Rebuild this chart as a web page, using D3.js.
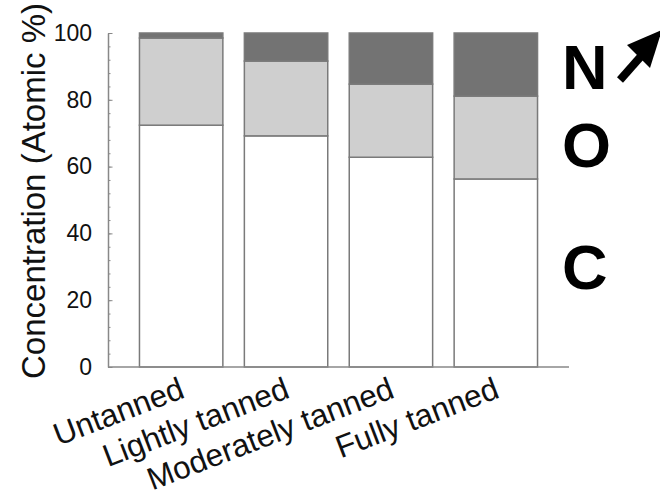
<!DOCTYPE html>
<html>
<head>
<meta charset="utf-8">
<script src="https://cdn.jsdelivr.net/npm/d3@7/dist/d3.min.js"></script>
<style>
  body { margin: 0; background: #fff; }
  svg { display: block; font-family: "Liberation Sans", Arial, sans-serif; }
</style>
</head>
<body>
<div id="chart"></div>
<script>
// sample names and element shares (atomic %)
var categories = ["Untanned", "Lightly tanned", "Moderately tanned", "Fully tanned"];
var elements = ["C", "O", "N"];
var carbon = [72.4, 69.2, 62.8, 56.3];
var oxygen = [26.1, 22.4, 21.9, 24.8];
var nitrogen = [1.5, 8.4, 15.3, 18.9];
var yTicks = [0, 20, 40, 60, 80, 100];

var width = 660, height = 498;

var rows = categories.map(function(c, i) {
    return { name: c, C: carbon[i], O: oxygen[i], N: nitrogen[i] };
});

var svg = d3.select("#chart").append("svg")
    .attr("width", width)
    .attr("height", height);

var x = d3.scaleBand()
    .domain(categories)
    .range([108, 569])
    .paddingInner(0.205)
    .paddingOuter(0.3);

var y = d3.scaleLinear()
    .domain([0, 100])
    .range([367, 33]);

var fills = { C: "#ffffff", O: "#cfcfcf", N: "#737373" };

var series = d3.stack().keys(elements)(rows);

svg.append("g")
    .selectAll("g")
    .data(series)
    .enter().append("g")
    .attr("fill", function(d) { return fills[d.key]; })
    .selectAll("rect")
    .data(function(d) { return d; })
    .enter().append("rect")
    .attr("x", function(d) { return x(d.data.name); })
    .attr("y", function(d) { return y(d[1]); })
    .attr("width", x.bandwidth())
    .attr("height", function(d) { return y(d[0]) - y(d[1]); })
    .attr("stroke", "#7a7a7a")
    .attr("stroke-width", 1.5);

// minor ticks every 4
var minor = svg.append("g")
    .attr("transform", "translate(108,0)")
    .call(d3.axisLeft(y).tickValues(d3.range(0, 101, 4)).tickSize(-2.5).tickSizeOuter(0).tickFormat(""));
minor.select(".domain").remove();
minor.selectAll("line").attr("stroke", "#888");

var yAxis = svg.append("g")
    .attr("transform", "translate(108,0)")
    .call(d3.axisLeft(y).tickValues(yTicks).tickSize(-4.5).tickSizeOuter(0).tickPadding(16));
yAxis.select(".domain").attr("stroke", "#888").attr("stroke-width", 1.5);
yAxis.selectAll("line").attr("stroke", "#888");
yAxis.selectAll("text")
    .attr("font-size", 23)
    .attr("font-family", "Liberation Sans, Arial, sans-serif")
    .attr("fill", "#111");

var xAxis = svg.append("g")
    .attr("transform", "translate(0,367)")
    .call(d3.axisBottom(x).tickSize(0).tickSizeOuter(0));
xAxis.select(".domain")
    .attr("stroke", "#888")
    .attr("stroke-width", 1.5)
    .attr("d", "M108,0H569");
xAxis.selectAll("text")
    .attr("font-size", 31.5)
    .attr("font-family", "Liberation Sans, Arial, sans-serif")
    .attr("fill", "#111")
    .attr("text-anchor", "end")
    .attr("dy", null)
    .attr("y", null)
    .attr("transform", "translate(5,30) rotate(-21)");

svg.append("text")
    .attr("transform", "translate(45,191) rotate(-90)")
    .attr("text-anchor", "middle")
    .attr("font-size", 33)
    .attr("fill", "#111")
    .text("Concentration (Atomic %)");

// element labels on the right
var labelY = { N: 89, O: 167, C: 289 };
svg.selectAll(".elem")
    .data(elements)
    .enter().append("text")
    .attr("class", "elem")
    .attr("x", 562)
    .attr("y", function(d) { return labelY[d]; })
    .attr("font-size", 63)
    .attr("font-weight", "bold")
    .attr("fill", "#000")
    .text(function(d) { return d; });

// arrow next to N
svg.append("line")
    .attr("x1", 620).attr("y1", 80)
    .attr("x2", 643).attr("y2", 54)
    .attr("stroke", "#000")
    .attr("stroke-width", 8);
svg.append("path")
    .attr("d", "M662,30L627,45L650,68Z")
    .attr("fill", "#000");
</script>
</body>
</html>
